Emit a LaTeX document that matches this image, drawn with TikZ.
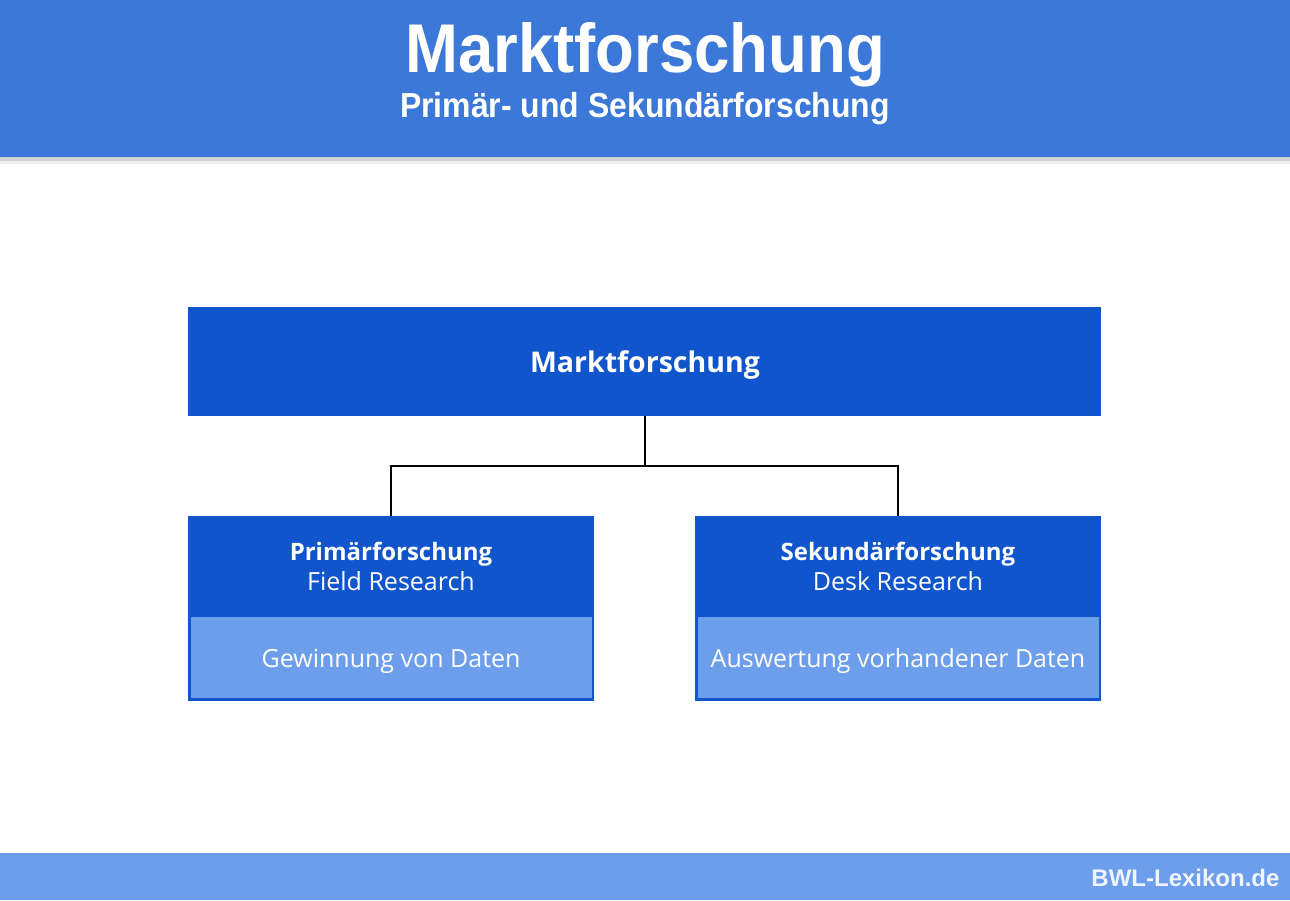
\documentclass[tikz,border=0pt]{standalone}
\usepackage{fontspec}
\setmainfont{Open Sans}
\newfontfamily\headfont[FakeStretch=0.92]{Liberation Sans}
\newfontfamily\footfont{Liberation Sans}
\definecolor{headblue}{HTML}{3C78D8}
\definecolor{boxblue}{HTML}{1155CC}
\definecolor{lightblue}{HTML}{6D9EEB}
\definecolor{foottext}{HTML}{F0F5FD}
\tikzset{
  darkbox/.style={fill=boxblue, draw=none, inner sep=0pt, text=white},
  lightpart/.style={fill=lightblue, draw=boxblue, line width=2.5pt, inner sep=0pt, text=white},
  conn/.style={draw=black, line width=1.6pt},
  maintitle/.style={font=\bfseries\fontsize{28.5}{32}\selectfont},
  boxtitle/.style={font=\bfseries\fontsize{24}{28}\selectfont},
  boxtext/.style={font=\fontsize{25}{29}\selectfont},
}
\begin{document}
\begin{tikzpicture}[x=1pt,y=-1pt]
\useasboundingbox (0,0) rectangle (1290,900);
\fill[white] (0,0) rectangle (1290,900);
% header
\fill[gray!35] (0,156) rectangle (1290,161);
\fill[gray!15] (0,161) rectangle (1290,164);
\fill[headblue] (0,0) rectangle (1290,157);
\node[text=white, font=\headfont\bfseries\fontsize{69}{72}\selectfont, anchor=base] (title) at (645,72) {Marktforschung};
\node[text=white, font=\headfont\bfseries\fontsize{34.7}{38}\selectfont, anchor=base] (subtitle) at (645,117) {Primär- und Sekundärforschung};
% footer
\fill[lightblue] (0,853) rectangle (1290,900);
\node[text=foottext, font=\footfont\bfseries\fontsize{24}{28}\selectfont, anchor=base east] (foot) at (1283,886) {BWL-Lexikon.de};
% top box
\node[darkbox, minimum width=913pt, minimum height=109pt] (top) at (644.5,361.5) {};
\node[maintitle, text=white, anchor=base] (toptitle) at (645,372) {Marktforschung};
% left box
\node[darkbox, minimum width=406pt, minimum height=100pt] (lefthead) at (391,566) {};
\node[lightpart, minimum width=403.5pt, minimum height=84pt] (leftbody) at (391,657.5) {};
\node[boxtext, text=white, anchor=base] (leftbodytext) at (391,667) {Gewinnung von Daten};
\node[boxtitle, text=white, anchor=base] (lefttitle) at (391,560) {Primärforschung};
\node[boxtext, text=white, anchor=base] (leftsub) at (391,590) {Field Research};
% right box
\node[darkbox, minimum width=406pt, minimum height=100pt] (righthead) at (898,566) {};
\node[lightpart, minimum width=403.5pt, minimum height=84pt] (rightbody) at (898,657.5) {};
\node[boxtext, text=white, anchor=base] (rightbodytext) at (898,667) {Auswertung vorhandener Daten};
\node[boxtitle, text=white, anchor=base] (righttitle) at (898,560) {Sekundärforschung};
\node[boxtext, text=white, anchor=base] (rightsub) at (898,590) {Desk Research};
% connectors
\coordinate (mid) at (645,466);
\draw[conn] (top.south -| mid) -- (mid);
\draw[conn] (lefthead.north) |- (mid) -| (righthead.north);
\end{tikzpicture}
\end{document}
